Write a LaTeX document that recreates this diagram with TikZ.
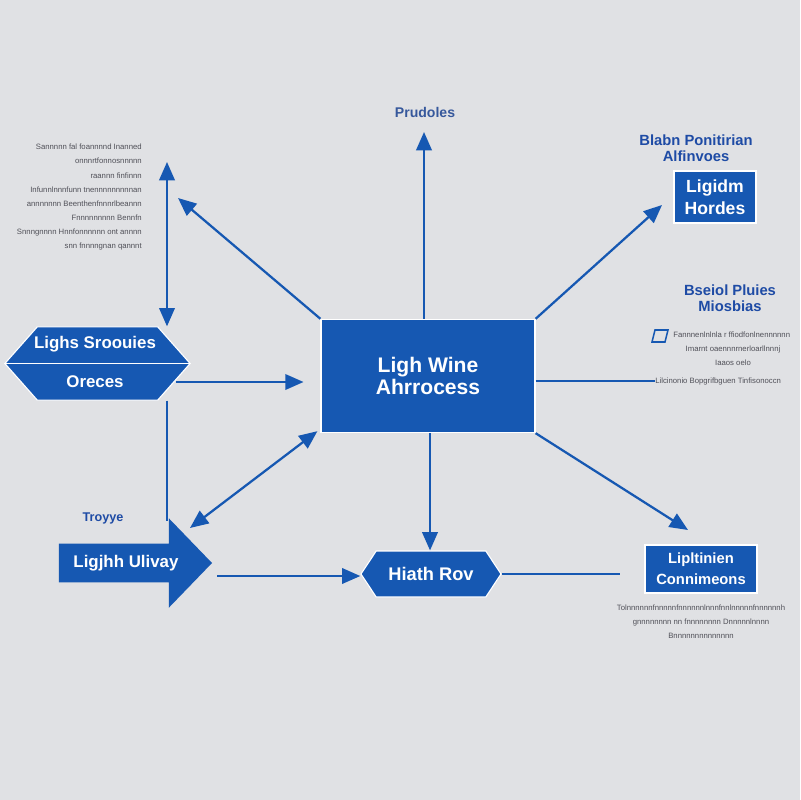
\documentclass[tikz,border=0pt]{standalone}
\usepackage{fontspec}
\setmainfont{Liberation Sans}
\usepackage{tikz}
\usetikzlibrary{arrows.meta}
\usetikzlibrary{positioning,shapes.geometric,shapes.symbols,shapes.arrows}
\definecolor{boxblue}{RGB}{22,88,178}
\definecolor{bggray}{RGB}{224,225,228}
\definecolor{labblue}{RGB}{30,75,165}
\definecolor{notegray}{RGB}{80,80,88}
\tikzset{
    flow/.style={
        draw=boxblue,
        line width=1.6pt,
        -{Triangle[length=13pt, width=11pt]}
    },
    biflow/.style={
        draw=boxblue,
        line width=1.6pt,
        {Triangle[length=13pt, width=11pt]}-{Triangle[length=13pt, width=11pt]}
    },
    plain/.style={
        draw=boxblue,
        line width=1.6pt
    }
}
\tikzset{
  every node/.style={font=\rmfamily},
  every label/.style={font=\rmfamily}
}

\begin{document}
\begin{tikzpicture}[x=0.025cm, y=-0.025cm]
  \tikzset{
    bluebox/.style={
      draw=white,
      fill=boxblue,
      line width=0.8pt,
      text=white,
      align=center,
      inner sep=0pt
    },
    hexa/.style={
      bluebox,
      signal,
      signal to=west and east
    },
    intext/.style={
      text=white,
      font=\fontsize{12}{14}\selectfont\bfseries
    },
    title/.style={
      text=labblue,
      align=center,
      font=\fontsize{10.5}{11.5}\selectfont\bfseries
    },
    note/.style={
      text=notegray,
      inner sep=0pt,
      font=\fontsize{5.5}{10}\selectfont
    }
  }

  % Background
  \fill[bggray] (0,0) rectangle (800,800);
  \useasboundingbox (0,0) rectangle (800,800);

  % Central box
  \node[bluebox, minimum width=5.35cm, minimum height=2.83cm,
        font=\fontsize{15}{16}\selectfont\bfseries] (main) at (428,376)
        {Ligh Wine\\Ahrrocess};
  \node[text=labblue!75!gray, font=\fontsize{10}{11}\selectfont\bfseries] (prud) at (425,112) {Prudoles};

  % Right column
  \node[title] (ttlA) at (696,148) {Blabn Ponitirian\\Alfinvoes};
  \node[bluebox, minimum width=2.05cm, minimum height=1.3cm,
        font=\fontsize{12.5}{15.6}\selectfont\bfseries] (hordes) at (715,197) {Ligidm\\Hordes};
  \node[title] (ttlB) at (730,298) {Bseiol Pluies\\Miosbias};
  \node[note, anchor=west] (noteB1) at (673,335) {Fannnenlnlnla r ffiodfonlnennnnnn};
  \node[note] (noteB2) at (733,349) {Imarnt oaennnrnerloarllnnnj};
  \node[note] (noteB3) at (733,363) {Iaaos oelo};
  \draw[boxblue, line width=1.1pt] (655,330) -- (668,330) -- (665,342) -- (652,342) -- cycle;
  \node[note, anchor=west] (noteB4) at (655,381) {Lilcinonio Bopgrifbguen Tinfisonoccn};
  \node[bluebox, minimum width=2.8cm, minimum height=1.2cm,
        font=\fontsize{10.5}{15}\selectfont\bfseries] (connm) at (701,569) {Lipltinien\\Connimeons};
  \node[note, align=center] (noteC) at (701,622)
        {Tolnnnnnnfnnnnnfnnnnnnlnnnfnnlnnnnnfnnnnnnh\\
         gnnnnnnnn nn fnnnnnnnn Dnnnnnlnnnn\\
         Bnnnnnnnnnnnnnn};

  % Left column
  \node[note, align=right, anchor=north east] (noteA) at (142,144)
        {Sannnnn fal foannnnd Inanned\\
         onnnrtfonnosnnnnn\\
         raannn finfinnn\\
         Infunnlnnnfunn tnennnnnnnnnan\\
         annnnnnn Beenthenfnnnrlbeannn\\
         Fnnnnnnnnn Bennfn\\
         Snnngnnnn Hnnfonnnnnn ont annnn\\
         snn fnnnngnan qannnt};
  \node[hexa, minimum width=4.63cm, minimum height=1.83cm,
        signal pointer angle=97] (lso) at (97.5,363.5) {};
  \draw[white, line width=1.4pt] (lso.west) -- (lso.east);
  \node[intext] (lss) at (95,344) {Lighs Sroouies};
  \node[intext] (orc) at (95,382) {Oreces};
  \node[text=labblue, font=\fontsize{9}{10}\selectfont\bfseries] (troy) at (103,518) {Troyye};
  \node[draw=none, fill=boxblue, single arrow,
        single arrow head extend=18pt, single arrow tip angle=92,
        minimum height=3.83cm, minimum width=2.22cm, inner ysep=8pt,
        intext, font=\fontsize{12}{14}\selectfont\bfseries] (uway) at (126,563) {Ligjhh Ulivay};
  \node[hexa, minimum width=3.5cm, minimum height=1.15cm, signal pointer angle=113,
        font=\fontsize{13}{14}\selectfont\bfseries] (hrow) at (431,574) {Hiath Rov};

  % Free ends
  \coordinate (pUp) at (424,132);
  \coordinate (pNW) at (178,198);
  \coordinate (pNE) at (662,205);
  \coordinate (pSE) at (688,530);
  \coordinate (pTop) at (167,162);
  \coordinate (pBL) at (190,528);

  % Connectors
  \draw[flow] (main.north -| 424,0) -- (pUp);
  \draw[flow] (main.north west) -- (pNW);
  \draw[flow] (main.north east) -- (pNE);
  \draw[plain] (main.east |- 0,381) -- (noteB4.west);
  \draw[flow] (main.south east) -- (pSE);
  \draw[flow] (main.south -| 430,0) -- (hrow.north -| 430,0);
  \draw[biflow] (main.south west) ++(-3,-2) -- (pBL);
  \draw[biflow] (pTop) -- (lso.north -| pTop);
  \draw[plain] (lso.south -| pTop) -- (167,521);
  \draw[flow, shorten >=12pt] ([xshift=-0.36cm]lso.east |- orc) -- (main.west |- orc);
  \draw[flow] (217,576) -- (hrow.west |- 0,576);
  \draw[plain] (hrow.east) -- ++(118,0);
\end{tikzpicture}
\end{document}
